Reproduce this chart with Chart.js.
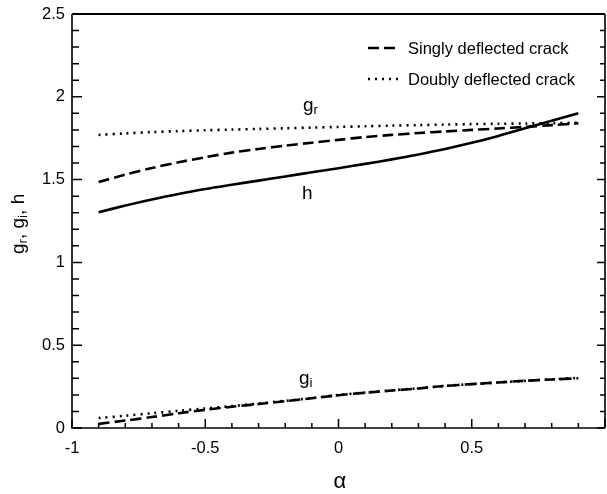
<!DOCTYPE html>
<html>
<head>
<meta charset="utf-8">
<script src="https://cdn.jsdelivr.net/npm/chart.js@4/dist/chart.umd.min.js"></script>
<style>
  html, body { margin: 0; padding: 0; background: #fff; }
  #wrap { width: 607px; height: 494px; position: relative; }
</style>
</head>
<body>
<div id="wrap"><canvas id="c"></canvas></div>
<script>
// Deflection angle parameter alpha
const alpha = [-0.9, -0.8, -0.7, -0.6, -0.5, -0.4, -0.3, -0.2, -0.1, 0,
               0.1, 0.2, 0.3, 0.4, 0.5, 0.6, 0.7, 0.8, 0.9];

// Singly deflected crack
const singlyGr = [1.485, 1.53, 1.57, 1.605, 1.635, 1.663, 1.685, 1.705, 1.723, 1.74,
                  1.757, 1.77, 1.781, 1.791, 1.80, 1.809, 1.818, 1.829, 1.84];
const singlyGi = [0.025, 0.045, 0.066, 0.089, 0.11, 0.128, 0.145, 0.162, 0.18, 0.198,
                  0.213, 0.226, 0.239, 0.254, 0.265, 0.275, 0.285, 0.293, 0.30];
const hValues  = [1.303, 1.343, 1.38, 1.413, 1.443, 1.469, 1.494, 1.519, 1.544, 1.569,
                  1.595, 1.622, 1.652, 1.685, 1.722, 1.764, 1.81, 1.855, 1.90];

// Doubly deflected crack
const doublyGr = [1.77, 1.779, 1.787, 1.793, 1.798, 1.802, 1.806, 1.81, 1.814, 1.818,
                  1.822, 1.826, 1.829, 1.832, 1.835, 1.837, 1.839, 1.841, 1.843];
const doublyGi = [0.06, 0.074, 0.089, 0.104, 0.118, 0.132, 0.148, 0.164, 0.181, 0.199,
                  0.214, 0.227, 0.24, 0.254, 0.265, 0.275, 0.285, 0.294, 0.302];

const xLabels = { '-10': '-1', '-5': '-0.5', '0': '0', '5': '0.5' };
const yLabels = { '0': '0', '5': '0.5', '10': '1', '15': '1.5', '20': '2', '25': '2.5' };
const legendItems = ['Singly deflected crack', 'Doubly deflected crack'];

const FONT = '"Liberation Sans", Arial, Helvetica, sans-serif';
const DASHED = [11, 5];
const DOTTED = [2, 5];

const pts = (ys) => alpha.map((a, i) => ({ x: a, y: ys[i] }));
const series = (ys, dash) => ({
  data: pts(ys), borderColor: '#000', borderWidth: 2.6, borderDash: dash,
  pointRadius: 0, tension: 0.3, fill: false, borderCapStyle: 'butt'
});

// Inward tick marks and the plot frame
const framePlugin = {
  id: 'frame',
  afterDraw(chart) {
    const { ctx, chartArea: a, scales: { x, y } } = chart;
    ctx.save();
    ctx.strokeStyle = '#000';
    ctx.lineWidth = 1.6;
    ctx.beginPath();
    ctx.moveTo(a.left, a.top); ctx.lineTo(a.left, a.bottom); ctx.lineTo(a.right, a.bottom);
    ctx.moveTo(a.right, a.bottom); ctx.lineTo(a.right, a.top);
    ctx.stroke();
    ctx.lineWidth = 2;
    ctx.beginPath(); ctx.moveTo(a.left, a.top); ctx.lineTo(a.right, a.top); ctx.stroke();
    ctx.lineWidth = 1.5;
    ctx.beginPath();
    x.ticks.forEach(t => {
      const major = Math.round(t.value * 10) % 5 === 0;
      const px = x.getPixelForValue(t.value);
      ctx.moveTo(px, a.bottom); ctx.lineTo(px, a.bottom - (major ? 9 : 5));
    });
    y.ticks.forEach(t => {
      const major = Math.round(t.value * 10) % 5 === 0;
      const py = y.getPixelForValue(t.value);
      ctx.moveTo(a.left, py); ctx.lineTo(a.left + (major ? 10 : 7), py);
      ctx.moveTo(a.right, py); ctx.lineTo(a.right - (major ? 8 : 5), py);
    });
    ctx.stroke();
    ctx.restore();
  }
};

// Text with subscripts, drawn left to right from (x, baseline y)
function subText(ctx, parts, x, y, size) {
  let cx = x;
  parts.forEach(([txt, sub]) => {
    const fs = sub ? size * 0.7 : size;
    ctx.font = fs + 'px ' + FONT;
    ctx.fillText(txt, cx, y + (sub ? size * 0.18 : 0));
    cx += ctx.measureText(txt).width;
  });
}

// Legend, curve names and axis titles
const labelPlugin = {
  id: 'labels',
  afterDraw(chart) {
    const { ctx, scales: { x, y } } = chart;
    ctx.save();
    ctx.fillStyle = '#000';
    ctx.strokeStyle = '#000';
    ctx.textAlign = 'left';

    // legend
    const rows = [{ dash: DASHED, yy: 48 }, { dash: DOTTED, yy: 79 }];
    rows.forEach((r, i) => {
      ctx.lineWidth = 2.6;
      ctx.setLineDash(r.dash);
      ctx.beginPath(); ctx.moveTo(368, r.yy); ctx.lineTo(398, r.yy); ctx.stroke();
      ctx.setLineDash([]);
      ctx.font = '16.5px ' + FONT;
      ctx.textBaseline = 'middle';
      ctx.fillText(legendItems[i], 408, r.yy + 1);
    });
    ctx.textBaseline = 'alphabetic';

    // curve names
    subText(ctx, [['g'], ['r', true]], x.getPixelForValue(-0.133), y.getPixelForValue(1.915), 19);
    subText(ctx, [['h']], x.getPixelForValue(-0.137), y.getPixelForValue(1.38), 19);
    subText(ctx, [['g'], ['i', true]], x.getPixelForValue(-0.148), y.getPixelForValue(0.268), 19);

    // x title
    ctx.font = '22px ' + FONT;
    ctx.textAlign = 'center';
    ctx.fillText('\u03B1', x.getPixelForValue(0.005), 488);

    // y title
    ctx.translate(24, 254);
    ctx.rotate(-Math.PI / 2);
    ctx.textAlign = 'left';
    subText(ctx, [['g'], ['r', true], [', g'], ['i', true], [', h']], 0, 0, 19);
    ctx.restore();
  }
};

new Chart(document.getElementById('c'), {
  type: 'line',
  data: {
    datasets: [
      series(singlyGr, DASHED),
      series(singlyGi, DASHED),
      series(hValues, []),
      series(doublyGr, DOTTED),
      series(doublyGi, DOTTED)
    ]
  },
  options: {
    responsive: true,
    maintainAspectRatio: false,
    animation: false,
    layout: { padding: { top: 14, right: 2, left: 0, bottom: 0 } },
    plugins: { legend: { display: false }, tooltip: { enabled: false } },
    scales: {
      x: {
        type: 'linear', min: -1, max: 1,
        grid: { display: false, drawTicks: false }, border: { display: false },
        afterFit: s => { s.height = 66; s.paddingLeft = 0; s.paddingRight = 0; },
        ticks: {
          stepSize: 0.1, autoSkip: false, maxRotation: 0, padding: 11,
          color: '#000', font: { family: FONT, size: 16.5 },
          callback: v => xLabels[String(Math.round(v * 10))] ?? ''
        }
      },
      y: {
        type: 'linear', min: 0, max: 2.5,
        grid: { display: false, drawTicks: false }, border: { display: false },
        afterFit: s => { s.width = 72; s.paddingTop = 0; s.paddingBottom = 0; },
        ticks: {
          stepSize: 0.1, autoSkip: false, padding: 7,
          color: '#000', font: { family: FONT, size: 16.5 },
          callback: v => yLabels[String(Math.round(v * 10))] ?? ''
        }
      }
    }
  },
  plugins: [framePlugin, labelPlugin]
});
</script>
</body>
</html>
